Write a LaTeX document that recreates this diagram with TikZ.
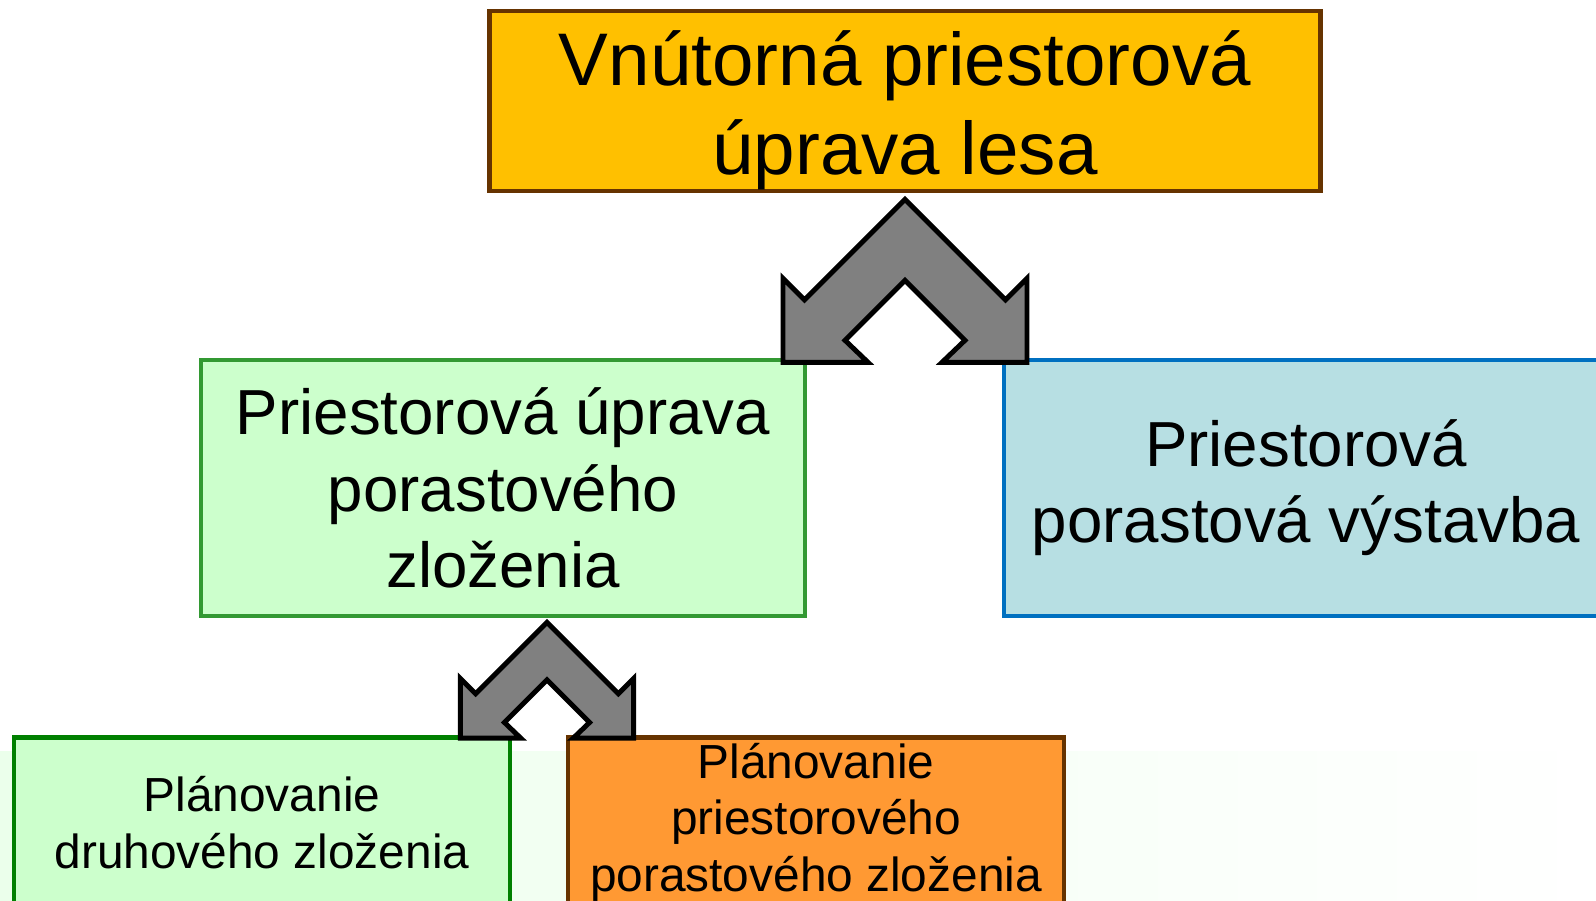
\documentclass[tikz,border=0pt]{standalone}
\usepackage{fontspec}
\setmainfont{Liberation Sans}
\usepackage{tikz}
\usetikzlibrary{positioning,calc}
\definecolor{topgold}{HTML}{FFC000}
\definecolor{barkbrown}{HTML}{663300}
\definecolor{leafbg}{HTML}{CCFFCC}
\definecolor{leafborder}{HTML}{339933}
\definecolor{darkleaf}{HTML}{008000}
\definecolor{skybg}{HTML}{B7DFE3}
\definecolor{skyborder}{HTML}{0070C0}
\definecolor{planorange}{HTML}{FF9933}
\definecolor{fadegreen}{HTML}{EBFFEB}

\begin{document}
\begin{tikzpicture}[
  x=0.01cm, y=-0.01cm,
  block/.style={
    draw,
    line width=1.3pt,
    inner sep=4pt,
    align=center
  },
  bigtext/.style={font=\fontsize{21.2}{25.3}\selectfont, align=center},
  midtext/.style={font=\fontsize{18.1}{21.7}\selectfont},
  smalltext/.style={font=\fontsize{13.6}{16.2}\selectfont, inner ysep=0pt},
  forkarrow/.pic={
    \draw[fill=black!50, line width=1.4pt, line join=miter]
      (0,0) -- (-100.5,100.5) -- (-122,79) -- (-122,163) -- (-37,163)
      -- (-60,141) -- (0,81) -- (60,141) -- (37,163) -- (122,163)
      -- (122,79) -- (100.5,100.5) -- cycle;
  }
]
  \clip (0,0) rectangle (1596,901);
  \useasboundingbox (0,0) rectangle (1596,901);

  % faint background band at the bottom
  \shade[left color=fadegreen, right color=white] (0,752) rectangle (1596,901);

  % Top: whole forest
  \node[block, draw=barkbrown, fill=topgold, minimum width=8.3cm, minimum height=1.8cm] (forest) at (905,101) {};
  \node[bigtext] (foresttitle) at ($(forest.center)+(0,9)$) {
    Vnútorná priestorová\\
    úprava lesa
  };

  % Middle row
  \node[block, midtext, draw=leafborder, fill=leafbg, minimum width=6.04cm, minimum height=2.56cm] (composition) at (503,488) {
    Priestorová úprava\\
    porastového\\
    zloženia
  };
  \node[block, midtext, draw=skyborder, fill=skybg, minimum width=6.04cm, minimum height=2.56cm, right=1.94cm of composition] (structure) {
    Priestorová\\
    porastová výstavba
  };

  % Bottom row
  \node[block, smalltext, draw=darkleaf, fill=leafbg, minimum width=4.96cm, minimum height=1.7cm, anchor=north] (species) at (262,735) {
    Plánovanie\\
    druhového zloženia
  };
  \node[block, smalltext, draw=barkbrown, fill=planorange, minimum width=4.96cm, minimum height=1.7cm, anchor=north] (spatial) at (816,735) {
    Plánovanie\\
    priestorového\\
    porastového zloženia
  };

  % Split arrows
  \pic (forksplit) at ($(forest.south)+(0,6)$) {forkarrow};
  \pic[scale=0.71] (compsplit) at ($(composition.south)+(44,4)$) {forkarrow};

\end{tikzpicture}
\end{document}
